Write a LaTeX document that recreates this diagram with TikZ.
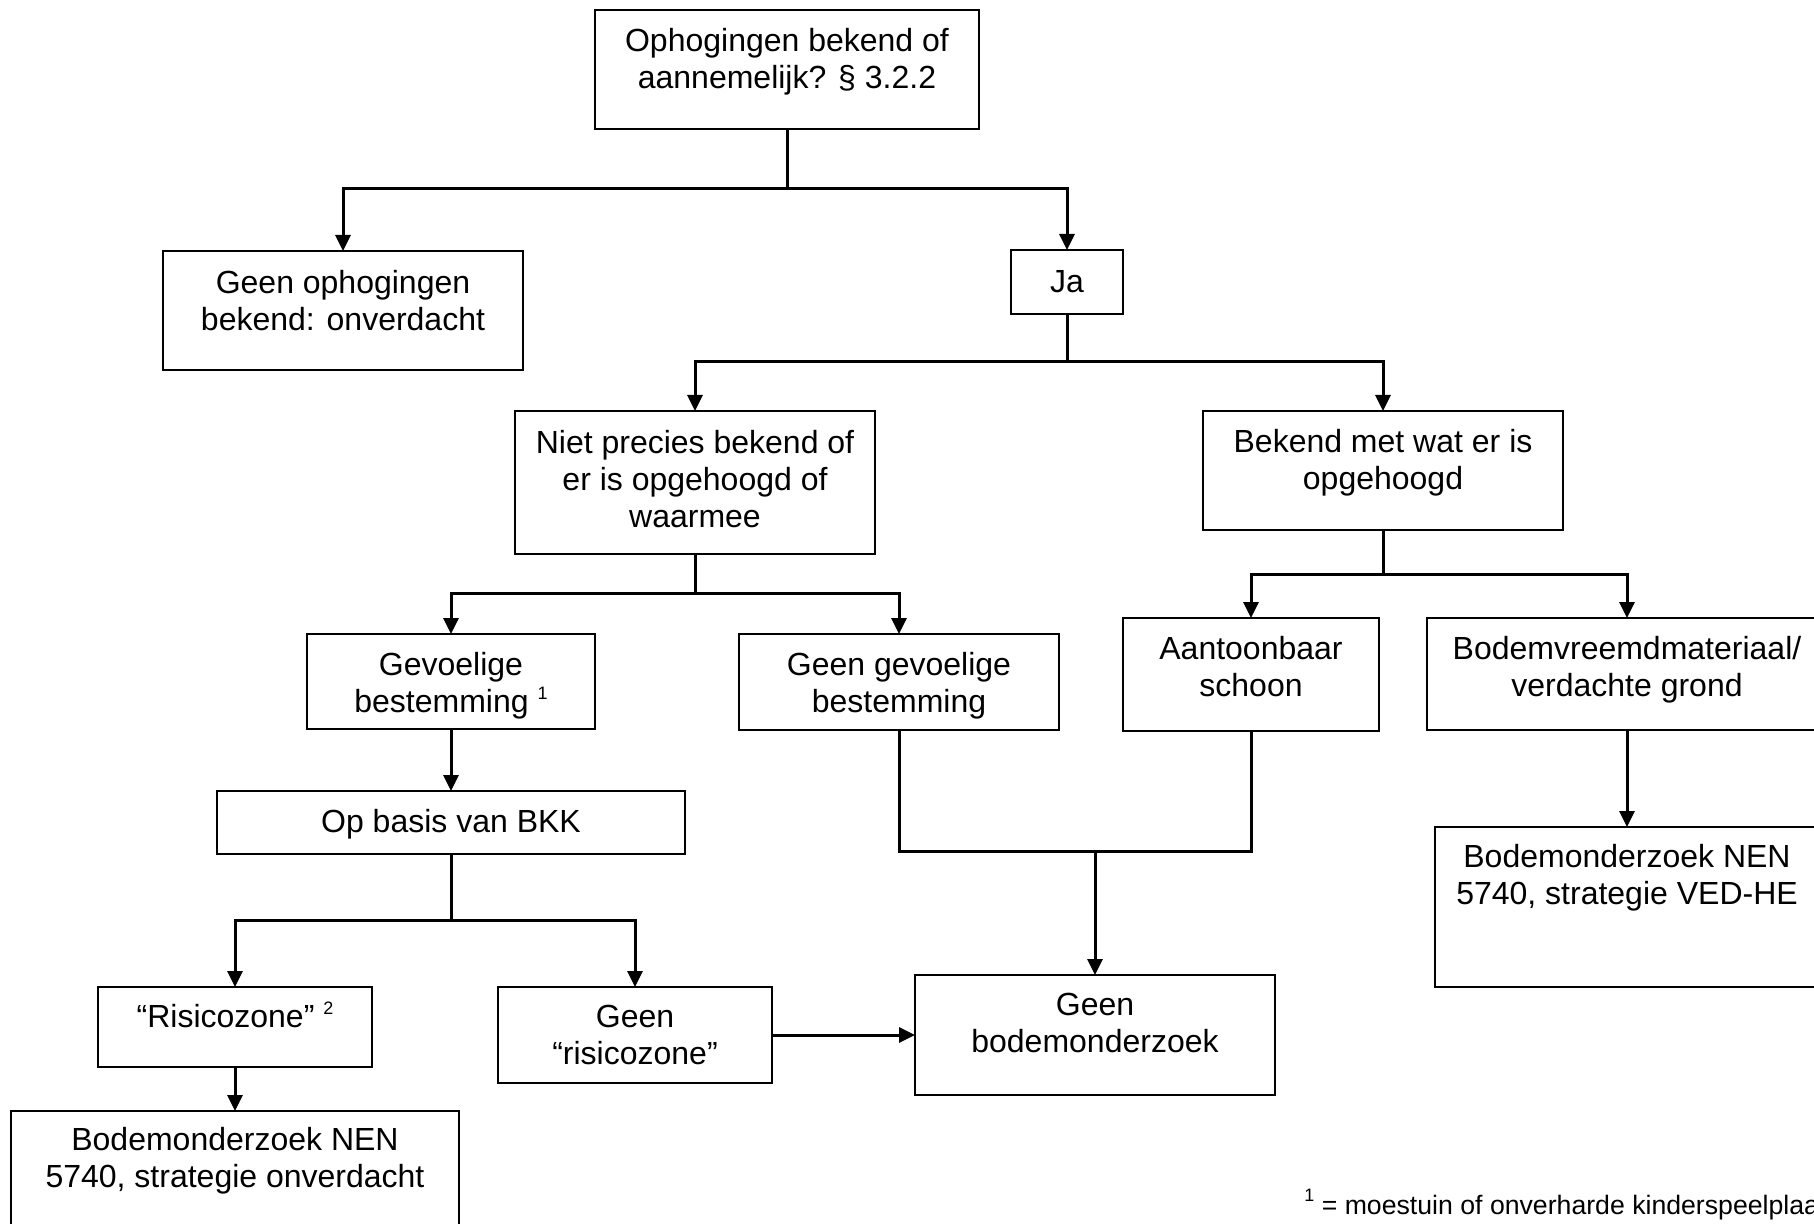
\documentclass[tikz,border=0pt]{standalone}
\usepackage{fontspec}
\setmainfont{Liberation Sans}
\usetikzlibrary{arrows.meta,calc}
\newcommand\sups[1]{\raisebox{6.5pt}{\fontsize{9pt}{9pt}\selectfont #1}}
\newcommand\mkbox[7]{%
  \node[bx,minimum width={(#4-#2)*0.5pt},minimum height={(#5-#3)*0.5pt}] (#1) at (#2,#3) {};
  \node[tx] (#1t) at ({(#2+#4)/2},{#3+#6-28}) {\rule{0pt}{14pt}#7};}
\begin{document}
\begin{tikzpicture}[x=0.5pt,y=-0.5pt,
  bx/.style={draw,line width=1.3pt,inner sep=0pt,outer sep=0pt,anchor=north west},
  tx/.style={anchor=north,inner sep=0pt,align=center,font=\fontsize{16pt}{18.5pt}\selectfont},
  ln/.style={line width=1.5pt},
  arr/.style={ln,-{Triangle[length=8pt,width=7.5pt]}}]
\useasboundingbox (0,0) rectangle (1814,1224);
\clip (0,0) rectangle (1814,1224);
% boxes
\mkbox{top}{595}{10}{979}{129}{41}{Ophogingen bekend of\\aannemelijk? § 3.2.2}
\mkbox{geen}{163}{251}{523}{370}{42}{Geen ophogingen\\bekend: onverdacht}
\mkbox{ja}{1011}{250}{1123}{314}{42}{Ja}
\mkbox{niet}{515}{411}{875}{554}{42}{Niet precies bekend of\\er is opgehoogd of\\waarmee}
\mkbox{bekend}{1203}{411}{1563}{530}{41}{Bekend met wat er is\\opgehoogd}
\mkbox{gev}{307}{634}{595}{729}{41}{Gevoelige\\bestemming \sups{1}}
\mkbox{geengev}{739}{634}{1059}{730}{41}{Geen gevoelige\\bestemming}
\mkbox{aant}{1123}{618}{1379}{731}{41}{Aantoonbaar\\schoon}
\mkbox{bvm}{1427}{618}{1827}{730}{41}{Bodemvreemdmateriaal/\\verdachte grond}
\mkbox{bkk}{217}{791}{685}{854}{41}{Op basis van BKK}
\mkbox{risico}{98}{987}{372}{1067}{40}{“Risicozone” \sups{2}}
\mkbox{geenrisico}{498}{987}{772}{1083}{40}{Geen\\“risicozone”}
\mkbox{geenbod}{915}{975}{1275}{1095}{40}{Geen\\bodemonderzoek}
\mkbox{ved}{1435}{827}{1819}{987}{40}{Bodemonderzoek NEN\\5740, strategie VED-HE}
\mkbox{onv}{11}{1111}{459}{1260}{39}{Bodemonderzoek NEN\\5740, strategie onverdacht}
% junctions
\coordinate (j1) at (787,189);
\coordinate (j2) at (1067,362);
\coordinate (j3) at (695,593);
\coordinate (j4) at (1383,574);
\coordinate (j5) at (451,920);
\coordinate (j6) at (1095,851);
% connectors
\draw[ln] (top.south) -- (j1);
\draw[arr] (j1) -| (geen.north);
\draw[arr] (j1) -| (ja.north);
\draw[ln] (ja.south) -- (j2);
\draw[arr] (j2) -| (niet.north);
\draw[arr] (j2) -| (bekend.north);
\draw[ln] (niet.south) -- (j3);
\draw[arr] (j3) -| (gev.north);
\draw[arr] (j3) -| (geengev.north);
\draw[ln] (bekend.south) -- (j4);
\draw[arr] (j4) -| (aant.north);
\draw[arr] (j4) -| (bvm.north);
\draw[arr] (gev.south) -- (bkk.north);
\draw[ln] (bkk.south) -- (j5);
\draw[arr] (j5) -| (risico.north);
\draw[arr] (j5) -| (geenrisico.north);
\draw[arr] (risico.south) -- (onv.north);
\draw[arr] (geenrisico.east) -- (geenbod.west);
\draw[ln] (geengev.south) -- (geengev.south |- j6) -- (aant.south |- j6) -- (aant.south);
\draw[arr] (j6) -- (geenbod.north);
\draw[arr] (bvm.south) -- (ved.north);
% footnote
\node[anchor=base west,inner sep=0pt,font=\fontsize{13.33pt}{16pt}\selectfont] (fn) at (1304,1214) {\sups{1} = moestuin of onverharde kinderspeelplaats};
\end{tikzpicture}
\end{document}
